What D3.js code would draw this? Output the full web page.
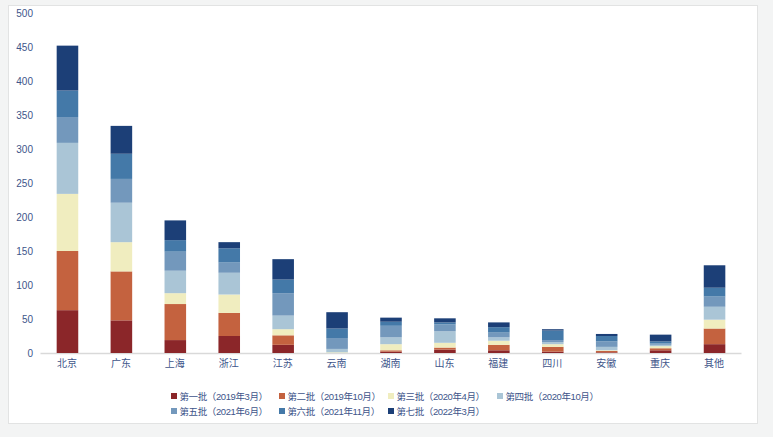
<!DOCTYPE html>
<html>
<head>
<meta charset="utf-8">
<script src="https://cdn.jsdelivr.net/npm/d3@7"></script>
<style>
body { margin:0; background:#f3f4f4; }
svg text { font-family: "Liberation Sans", "Noto Sans CJK SC", sans-serif; }
</style>
</head>
<body>
<div id="chart"></div>
<script>
const width = 773
const height = 437
const margin = {top:13, bottom:84, left:40, right:32}

const provinces = ["北京","广东","上海","浙江","江苏","云南","湖南","山东","福建","四川","安徽","重庆","其他"]
const batches = ["第一批（2019年3月）","第二批（2019年10月）","第三批（2020年4月）","第四批（2020年10月）",
                 "第五批（2021年6月）","第六批（2021年11月）","第七批（2022年3月）"]
const batch1 = [63, 48, 19, 25, 12, 0, 2, 5, 4, 2, 1, 4, 13]
const batch2 = [87, 72, 53, 34, 14, 0, 2, 3, 8, 7, 2, 3, 23]
const batch3 = [84, 43, 16, 27, 9, 1, 9, 7, 6, 4, 1, 3, 13]
const batch4 = [75, 58, 33, 32, 20, 5, 10, 17, 5, 3, 5, 2, 19]
const batch5 = [38, 35, 28, 15, 33, 16, 17, 10, 7, 3, 8, 2, 15]
const batch6 = [39, 37, 17, 21, 20, 14, 6, 3, 8, 14, 8, 3, 13]
const batch7 = [66, 41, 29, 9, 30, 24, 6, 6, 7, 2, 3, 10, 33]
const colors = ["#8b2629","#c4623f","#f0edbf","#aac5d6","#7398bc","#4479a8","#1c3f77"]
const yTicks = [0,50,100,150,200,250,300,350,400,450,500]

const series = [batch1,batch2,batch3,batch4,batch5,batch6,batch7]
const rows = provinces.map((p,i) => {
    const r = {name:p}
    series.forEach((s,k) => r["b"+k] = s[i])
    return r
})
const keys = series.map((s,k) => "b"+k)
const stacked = d3.stack().keys(keys)(rows)

const svg = d3.select("div#chart").append("svg").attr("width",width).attr("height",height)

svg.append("rect").attr("x",8.5).attr("y",5.5).attr("width",749).attr("height",418)
    .attr("fill","#fff").attr("stroke","#e2e3e3")

const x = d3.scaleBand().domain(provinces).range([margin.left, width - margin.right]).paddingInner(0.6).paddingOuter(0.3)
const y = d3.scaleLinear().domain([0,500]).range([height - margin.bottom, margin.top])

const yAxis = d3.axisLeft(y).tickValues(yTicks).tickSize(0).tickPadding(7)
const yAxisGroup = svg.append("g").attr("transform", `translate(${margin.left}, 0)`).call(yAxis)
yAxisGroup.select(".domain").remove()
yAxisGroup.selectAll("text").attr("fill","#40558a").attr("font-size",10)

const xAxis = d3.axisBottom(x).tickSize(0).tickPadding(7)
const xAxisGroup = svg.append("g").attr("transform", `translate(0, ${y(0)})`).call(xAxis)
xAxisGroup.select(".domain").attr("stroke","#d9d9d9").attr("stroke-width",1.5)
xAxisGroup.selectAll("text").attr("fill","#40558a").attr("font-size",10)

svg.append("g").selectAll("g").data(stacked).join("g")
    .attr("fill", (d,i) => colors[i])
    .selectAll("rect").data(d => d).join("rect")
    .attr("x", d => x(d.data.name) + 0.5)
    .attr("y", d => y(d[1]))
    .attr("width", x.bandwidth())
    .attr("height", d => y(d[0]) - y(d[1]))

const legendPos = [[171,393],[279,393],[388,393],[497,393],[171,408],[279,408],[388,408]]
const legend = svg.append("g").selectAll("g").data(batches).join("g")
    .attr("transform", (d,i) => `translate(${legendPos[i][0]}, ${legendPos[i][1]})`)
legend.append("rect").attr("width",6).attr("height",6).attr("fill", (d,i) => colors[i])
legend.append("text").attr("x",8.5).attr("y",6.5).attr("font-size",9.5).attr("fill","#40558a")
    .attr("letter-spacing",-0.4).text(d => d)
</script>
</body>
</html>
